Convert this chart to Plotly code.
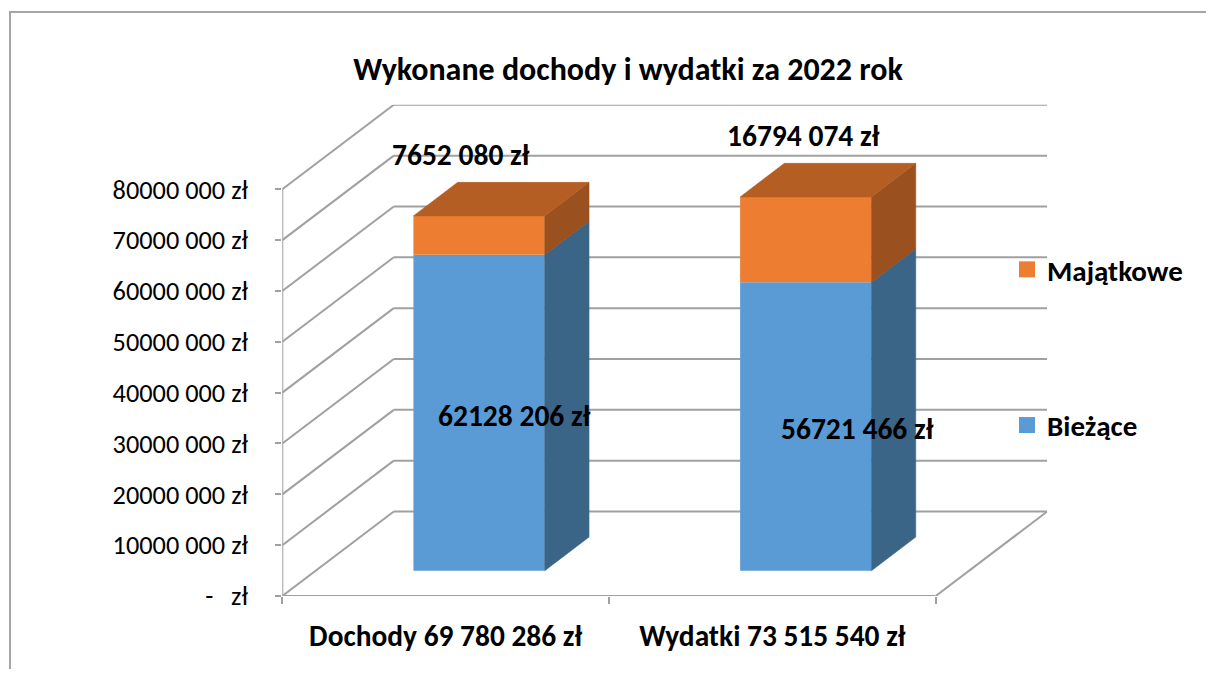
import plotly.graph_objects as go

# ---------------- data ----------------
title_text = "Wykonane dochody i wydatki za 2022 rok"
category_names = ["Dochody", "Wydatki"]
biezace = [62128206, 56721466]        # Bieżące
majatkowe = [7652080, 16794074]       # Majątkowe
series_names = ["Bieżące", "Majątkowe"]
y_tick_values = [0, 10000000, 20000000, 30000000, 40000000,
                 50000000, 60000000, 70000000, 80000000]

# ---------------- formatting helpers ----------------
def fmt_short(v):
    # Excel style seen in the chart: only the last thousands group separated
    if v == 0:
        return "-   zł"
    return f"{v // 1000} {v % 1000:03d} zł"

def fmt_full(v):
    return f"{v:,} zł".replace(",", " ")

# ---------------- geometry (window pixels -> figure) ----------------
W, H = 1214, 677
OFF = 8                                # default body margin of the page
FW, FH = W - 2 * OFF, H - 2 * OFF       # figure size that fits the window

def px(r):
    return (r - OFF) / FW

def py(r):
    return 1 - (r - OFF) / FH

X0_PX, Y0_PX = 282.3, 596.0          # front-plane origin
CAT_PX = 326.7                        # pixels per category
VAL_PX = 406.7 / 80e6                 # pixels per unit of value
DEPTH_PX = (111.5, 84.5)              # full depth shift of the back wall
BAR_FRONT = 0.30                      # bar front face depth fraction
BAR_DEPTH = 0.397                     # bar depth fraction
BAR_WIDTH = 0.402                     # bar width in category units
LABEL_SPREAD = 16                     # extra label spacing per category (px)

DX = DEPTH_PX[0] / CAT_PX
DY = DEPTH_PX[1] / VAL_PX
dxf, dyf = BAR_FRONT * DX, BAR_FRONT * DY
ddx, ddy = BAR_DEPTH * DX, BAR_DEPTH * DY

n = len(category_names)
x_range = [0, n + DX]
y_range = [0, y_tick_values[-1] + DY]
x_dom = [px(X0_PX), px(X0_PX + x_range[1] * CAT_PX)]
y_dom = [py(Y0_PX), py(Y0_PX - y_range[1] * VAL_PX)]

GRID = "#A0A0A0"
BLUE, BLUE_SIDE = "#5B9BD5", "#3A6587"
ORANGE, ORANGE_SIDE, ORANGE_TOP = "#ED7D31", "#9B501F", "#B55E23"
FONT = "Carlito, Calibri, Lato, sans-serif"

centers = [i + 0.5 for i in range(n)]
totals = [b + m for b, m in zip(biezace, majatkowe)]

fig = go.Figure()

# front faces of bars
fig.add_trace(go.Bar(
    x=[c + dxf for c in centers], y=biezace, base=[dyf] * n,
    width=BAR_WIDTH, marker=dict(color=BLUE, line=dict(width=0)),
    name=series_names[0], showlegend=False, hoverinfo="skip"))
fig.add_trace(go.Bar(
    x=[c + dxf for c in centers], y=majatkowe, base=[dyf + b for b in biezace],
    width=BAR_WIDTH, marker=dict(color=ORANGE, line=dict(width=0)),
    name=series_names[1], showlegend=False, hoverinfo="skip"))

# side and top faces (derived from the same values)
def poly(xs, ys, color):
    fig.add_trace(go.Scatter(x=xs + [xs[0]], y=ys + [ys[0]], mode="lines",
                             fill="toself", fillcolor=color,
                             line=dict(color=color, width=0.6),
                             showlegend=False, hoverinfo="skip"))

for c, b, t in zip(centers, biezace, totals):
    xl = c + dxf - BAR_WIDTH / 2
    xr = c + dxf + BAR_WIDTH / 2
    b0, b1, b2 = dyf, dyf + b, dyf + t
    poly([xr, xr + ddx, xr + ddx, xr], [b0, b0 + ddy, b1 + ddy, b1], BLUE_SIDE)
    poly([xr, xr + ddx, xr + ddx, xr], [b1, b1 + ddy, b2 + ddy, b2], ORANGE_SIDE)
    poly([xl, xl + ddx, xr + ddx, xr], [b2, b2 + ddy, b2 + ddy, b2], ORANGE_TOP)

# legend entries
for nm, col in [(series_names[1], ORANGE), (series_names[0], BLUE)]:
    fig.add_trace(go.Scatter(x=[None], y=[None], mode="markers", name=nm,
                             legendgroup=nm,
                             marker=dict(symbol="square", size=16, color=col)))

# walls, floor and axes lines
shapes = []
def seg(x0, y0, x1, y1, w=2):
    shapes.append(dict(type="line", xref="x", yref="y", x0=x0, y0=y0,
                       x1=x1, y1=y1, layer="below",
                       line=dict(color=GRID, width=w)))

for v in y_tick_values:
    seg(0, v, DX, v + DY)               # left wall
    seg(DX, v + DY, n + DX, v + DY)     # back wall
seg(n, 0, n + DX, DY)                   # floor right edge
seg(0, 0, 0, y_tick_values[-1])         # front value axis
seg(0, 0, n, 0)                         # front category axis

# chart border
shapes.append(dict(type="rect", xref="paper", yref="paper",
                   x0=px(10), x1=1.2, y0=-0.2, y1=py(12),
                   line=dict(color="#A6A6A6", width=2), layer="below"))

LBL = dict(family=FONT, size=29.5, color="black", weight="bold")
annotations = []
for i, (c, b) in enumerate(zip(centers, biezace)):
    annotations.append(dict(x=c + dxf + ddx, y=dyf + b / 2, xref="x", yref="y",
                            text=fmt_short(b), showarrow=False, font=LBL,
                            xshift=-9 + LABEL_SPREAD * i, yshift=-3))
for i, (c, m, t) in enumerate(zip(centers, majatkowe, totals)):
    annotations.append(dict(x=c + dxf, y=dyf + t + ddy, xref="x", yref="y",
                            text=fmt_short(m), showarrow=False, yshift=27,
                            xshift=-18 + LABEL_SPREAD * i, font=LBL))

fig.update_layout(
    width=FW, height=FH,
    margin=dict(l=0, r=0, t=0, b=0, autoexpand=False),
    paper_bgcolor="white", plot_bgcolor="white",
    barmode="overlay",
    title=dict(text=title_text, x=px(628), xanchor="center",
               y=py(69), yanchor="middle",
               font=dict(family=FONT, size=32, color="black", weight="bold")),
    xaxis=dict(domain=x_dom, range=x_range, showgrid=False, zeroline=False,
               automargin=False,
               showline=False, tickmode="array", tickvals=centers,
               ticktext=[f"{nm} {fmt_full(t)}" for nm, t in zip(category_names, totals)],
               ticks="", ticklabelstandoff=20,
               tickfont=dict(family=FONT, size=29.4, color="black", weight="bold"),
               minor=dict(tickmode="array", tickvals=list(range(n + 1)),
                          ticks="outside", ticklen=7, tickwidth=2,
                          tickcolor=GRID, showgrid=False)),
    yaxis=dict(domain=y_dom, range=y_range, showgrid=False, zeroline=False,
               automargin=False,
               showline=False, tickmode="array", tickvals=y_tick_values,
               ticktext=[fmt_short(v) for v in y_tick_values],
               ticks="outside", ticklen=6, tickwidth=2, tickcolor=GRID,
               ticklabelstandoff=22,
               tickfont=dict(family=FONT, size=26.3, color="black")),
    legend=dict(x=px(1007), xanchor="left", y=py(244), yanchor="top",
                traceorder="grouped", tracegroupgap=115,
                font=dict(family=FONT, size=29, color="black", weight="bold"),
                bgcolor="rgba(0,0,0,0)", itemclick=False),
    shapes=shapes, annotations=annotations,
    hovermode=False,
)

fig.write_html("out.html")
